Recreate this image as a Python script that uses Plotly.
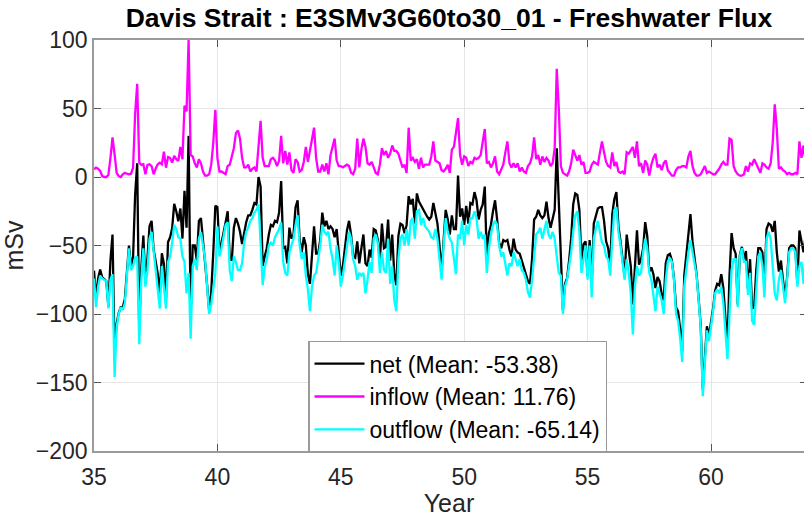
import numpy as np
import plotly.graph_objects as go

# Monthly freshwater transport through Davis Strait (mSv), starting in year 35
start_year = 35
inflow = [
    5.6, 6.8, 6, 4.4, 0.7, 0, 0, 1.5, 14, 29,
    16.6, 3, 0.7, 0, 2, 3, 2.4, 2, 2.4, 6.8,
    46, 68, 10.5, 8.8, 9.3, 2, 8.8, 9.3, 8, 2,
    6.3, 9.3, 10.5, 9.3, 18.5, 6.8, 14.6, 14, 10.5, 15.4,
    13, 11.7, 22, 13, 52, 48, 100, 16, 15, 10,
    7, 13, 10, 4, 1, 1, 2, 9, 25, 49,
    14, 4, 4, 3, 2, 8, 9, 15, 21, 32,
    34, 28, 14, 7, 7, 9, 4, 6, 7, 4,
    20, 41, 14, 8, 8, 8, 13, 14, 12, 8,
    12, 30, 10, 19, 9, 18, 5, 3, 13, 11,
    4, 5, 11, 22, 11, 20, 27, 36, 14, 4,
    4, 9, 4, 10, 2, 16, 22, 28, 12, 8,
    8, 7, 8, 9, 8, 3, 2, 6, 28, 7,
    20, 28, 22, 10, 9, 11, 7, 3, 2, 9,
    21, 16, 19, 14, 17, 23, 19, 19, 17, 11,
    7, 9, 3, 36, 12, 14, 11, 13, 6, 14,
    7, 9, 9, 9, 15, 26, 12, 11, 10, 5,
    4, 6, 9, 3, 20, 22, 33, 43, 16, 9,
    15, 14, 8, 11, 10, 14, 13, 14, 16, 25,
    35, 10, 11, 7, 10, 15, 4, 2, 6, 9,
    18, 26, 10, 7, 10, 7, 10, 4, 7, 4,
    3, 8, 10, 15, 29, 13, 16, 9, 15, 11,
    14, 12, 8, 10, 21, 79, 50, 8, 3, 2,
    1, 4, 10, 20, 16, 12, 16, 9, 11, 3,
    3, 4, 9, 11, 10, 9, 18, 26, 18, 11,
    8, 7, 18, 8, 11, 4, 3, 4, 2, 18,
    17, 20, 22, 14, 26, 8, 10, 3, 12, 9,
    1, 9, 14, 17, 7, 9, 5, 10, 12, 5,
    3, 1, 1, 5, 7, 7, 8, 8, 7, 15,
    19, 8, 3, 1, 1, 2, 5, 8, 3, 4,
    3, 2, 2, 4, 6, 9, 11, 9, 9, 28,
    27, 8, 4, 2, 1, 1, 2, 8, 4, 10,
    9, 13, 10, 6, 3, 10, 9, 7, 6, 10,
    25, 53, 35, 6, 7, 5, 4, 2, 3, 2,
    2, 3, 2, 26, 14, 23, 12, 10,
]
outflow = [
    -74, -95, -80, -72, -74, -75, -76, -96, -75, -71,
    -146, -110, -100, -95, -97, -92, -70, -52, -68, -65,
    -59, -58, -122, -75, -52, -80, -68, -45, -40, -55,
    -68, -80, -96, -65, -82, -96, -62, -58, -48, -35,
    -38, -44, -45, -58, -62, -85, -70, -118, -65, -60,
    -68, -45, -40, -50, -60, -80, -100, -93, -80, -70,
    -36, -58, -52, -42, -35, -33, -68, -76, -58, -62,
    -68, -68, -63, -48, -40, -37, -32, -30, -26, -24,
    -20, -48, -79, -66, -60, -50, -48, -50, -44, -41,
    -38, -33, -62, -70, -72, -55, -50, -45, -35, -28,
    -50, -60, -55, -72, -82, -98, -80, -72, -70, -60,
    -50, -35, -40, -42, -40, -52, -60, -72, -50, -62,
    -80, -72, -60, -48, -40, -45, -60, -65, -75, -70,
    -72, -70, -85, -75, -62, -70, -45, -42, -48, -70,
    -55, -68, -70, -45, -78, -65, -90, -98, -60, -45,
    -42, -50, -38, -50, -32, -30, -45, -25, -24, -35,
    -30, -36, -38, -40, -44, -45, -38, -45, -60, -75,
    -50, -30, -40, -45, -48, -60, -71, -42, -45, -32,
    -50, -35, -42, -30, -30, -25, -30, -45, -40, -45,
    -42, -70, -52, -42, -35, -32, -35, -50, -58, -55,
    -65, -72, -63, -65, -55, -60, -65, -60, -68, -70,
    -75, -84, -88, -75, -60, -42, -40, -37, -45, -39,
    -32, -42, -45, -40, -45, -58, -70, -72, -100, -80,
    -75, -65, -55, -40, -28, -25, -40, -70, -60, -50,
    -75, -50, -88, -45, -38, -32, -40, -48, -50, -58,
    -60, -72, -45, -24, -22, -40, -50, -62, -75, -60,
    -70, -85, -115, -80, -65, -72, -70, -55, -45, -52,
    -70, -75, -85, -98, -80, -85, -90, -100, -75, -62,
    -59, -62, -75, -100, -105, -118, -135, -80, -65, -55,
    -46, -55, -62, -72, -90, -110, -160, -135, -112, -120,
    -110, -98, -85, -82, -85, -80, -92, -115, -133, -100,
    -68, -60, -60, -95, -58, -52, -62, -62, -86, -70,
    -105, -108, -78, -58, -55, -65, -88, -45, -40, -45,
    -65, -85, -90, -75, -68, -80, -92, -75, -55, -52,
    -52, -55, -80, -65, -62, -78, -55, -50,
]
x_ticks = [35, 40, 45, 50, 55, 60]
y_ticks = [-200, -150, -100, -50, 0, 50, 100]
legend_labels = ["net (Mean: -53.38)", "inflow (Mean: 11.76)", "outflow (Mean: -65.14)"]

inflow = np.array(inflow, dtype=float)
outflow = np.array(outflow, dtype=float)
# net transport is inflow plus outflow
net = inflow + outflow
year = start_year + np.arange(len(inflow)) / 12.0

FONT = "Liberation Sans, Arial, Helvetica, sans-serif"
AXIS_COLOR = "#9a9a9a"
TICK_COLOR = "#555555"
TEXT_COLOR = "#262626"

fig = go.Figure()
for values, color, label in [
    (net, "#000000", legend_labels[0]),
    (inflow, "#ff00ff", legend_labels[1]),
    (outflow, "#00ffff", legend_labels[2]),
]:
    fig.add_trace(go.Scatter(x=year, y=values, mode="lines", name=label,
                             line=dict(color=color, width=2.3)))

# right-hand tick marks without a right axis line
fig.add_trace(go.Scatter(x=[None], y=[None], yaxis="y2", showlegend=False,
                         hoverinfo="skip"))

fig.update_layout(
    width=804, height=517,
    margin=dict(l=94, r=0, t=40, b=66, pad=0),
    paper_bgcolor="white", plot_bgcolor="white",
    font=dict(family=FONT, color=TEXT_COLOR),
    title=dict(text="<b>Davis Strait : E3SMv3G60to30_01 - Freshwater Flux</b>",
               font=dict(size=26.5, color="#000000", family=FONT),
               x=0.5, xref="paper", xanchor="center",
               y=1 - 8 / 517, yref="container", yanchor="top"),
    xaxis=dict(range=[35, 35 + 710 / 24.68], tickvals=x_ticks,
               ticks="inside", ticklen=7, tickwidth=1, tickcolor=TICK_COLOR,
               showline=True, linecolor=AXIS_COLOR, linewidth=1.5, mirror="ticks",
               showgrid=True, gridcolor="#e6e6e6", gridwidth=1, zeroline=False,
               tickfont=dict(size=23, color=TEXT_COLOR), ticklabelstandoff=5,
               title=dict(text="Year", font=dict(size=25, color=TEXT_COLOR), standoff=7)),
    yaxis=dict(range=[-200, 100], tickvals=y_ticks,
               ticks="inside", ticklen=7, tickwidth=1, tickcolor=TICK_COLOR,
               showline=True, linecolor=AXIS_COLOR, linewidth=1.5,
               showgrid=True, gridcolor="#e6e6e6", gridwidth=1, zeroline=False,
               tickfont=dict(size=23, color=TEXT_COLOR),
               title=dict(text="mSv", font=dict(size=25, color=TEXT_COLOR), standoff=6)),
    yaxis2=dict(range=[-200, 100], tickvals=y_ticks, overlaying="y", side="right",
                anchor="x", ticks="inside", ticklen=4, tickcolor=TICK_COLOR,
                showticklabels=False, showline=False, showgrid=False, zeroline=False),
    legend=dict(x=(308 - 94) / 710, y=-0.004, xanchor="left", yanchor="bottom",
                bgcolor="white", bordercolor=AXIS_COLOR, borderwidth=1.5,
                font=dict(size=23, color="#000000", family=FONT),
                tracegroupgap=0, itemwidth=50),
    showlegend=True,
)

fig.write_html("out.html")
